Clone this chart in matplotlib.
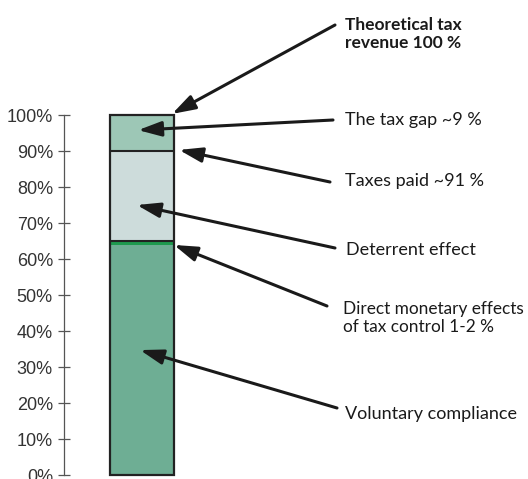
import matplotlib
matplotlib.use("Agg")
import matplotlib.pyplot as plt
import numpy as np

# ---- data ----
segments = ["Voluntary compliance", "Direct monetary effects", "Deterrent effect", "The tax gap"]
segment_values = [64, 1, 25, 10]
segment_colors = ["#6eae94", "#1e9a4e", "#cddcdb", "#9dc7b6"]
tick_values = [0, 10, 20, 30, 40, 50, 60, 70, 80, 90, 100]
tick_labels = ["0%", "10%", "20%", "30%", "40%", "50%", "60%", "70%", "80%", "90%", "100%"]

# annotation texts with arrow target (x as fraction of bar width from left, y in %)
ann_texts = ["Theoretical tax\nrevenue 100 %", "The tax gap ~9 %", "Taxes paid ~91 %",
             "Deterrent effect", "Direct monetary effects\nof tax control 1-2 %",
             "Voluntary compliance"]
ann_target_x = [0.97, 0.44, 1.08, 0.42, 1.0, 0.47]
ann_target_y = [100.3, 95.8, 90.3, 75.0, 63.9, 34.7]
# text positions (figure pixels from top-left) and arrow tails
ann_text_px = [(345, 34), (345, 120), (345, 181), (346, 250), (343, 318), (345, 414)]
ann_tail_px = [(335, 25), (333, 120), (330, 182), (335, 248), (327, 306), (337, 408)]
ann_bold = [True, False, False, False, False, False]
ann_size = [12.5, 13, 13, 13, 12.4, 13]

W, H = 528, 479
fig = plt.figure(figsize=(W / 100, H / 100), dpi=100)
ax_left_px, ax_bottom_px, ax_top_px = 64, 475, 115
ax = fig.add_axes([ax_left_px / W, (H - ax_bottom_px) / H,
                   (W - ax_left_px) / W, (ax_bottom_px - ax_top_px) / H])
ax.set_xlim(0, 1)
ax.set_ylim(0, 100)

bar_x = (142 - ax_left_px) / (W - ax_left_px)
bar_w = 64 / (W - ax_left_px)

bottoms = np.concatenate([[0], np.cumsum(segment_values)[:-1]])
for v, b, c in zip(segment_values, bottoms, segment_colors):
    ax.bar(bar_x, v, bottom=b, width=bar_w, color=c, edgecolor="none", linewidth=0, clip_on=False, zorder=2)

# separator lines at the deterrent top and its bottom
tops = np.cumsum(segment_values)
for y in [tops[2], tops[1]]:
    ax.plot([bar_x - bar_w / 2, bar_x + bar_w / 2], [y, y], color="#222222", lw=1.5,
            solid_capstyle="butt", clip_on=False, zorder=3)
# outline
ax.bar(bar_x, tops[-1], width=bar_w, color="none", edgecolor="#222222", linewidth=1.6, clip_on=False, zorder=4)

for s in ["top", "right", "bottom"]:
    ax.spines[s].set_visible(False)
ax.spines["left"].set_color("#555555")
ax.spines["left"].set_linewidth(0.9)
ax.set_xticks([])
ax.set_yticks(tick_values)
ax.set_yticklabels(tick_labels, fontfamily=["Liberation Sans Narrow", "Liberation Sans"], fontsize=13, color="#333333")
ax.tick_params(axis="y", direction="inout", length=8, width=0.9, color="#555555", pad=4)

for txt, tx, ty, (px, py), (qx, qy), bold, fs in zip(ann_texts, ann_target_x, ann_target_y,
                                                      ann_text_px, ann_tail_px, ann_bold, ann_size):
    xd = bar_x - bar_w / 2 + tx * bar_w
    ax.annotate("", xy=(xd, ty), xycoords="data",
                xytext=(qx / W, 1 - qy / H), textcoords="figure fraction",
                arrowprops=dict(arrowstyle="-|>,head_length=1.4,head_width=0.45", mutation_scale=10,
                                color="#1a1a1a", lw=2.2, shrinkA=0, shrinkB=0),
                annotation_clip=False, zorder=5)
    fig.text(px / W, 1 - py / H, txt, ha="left", va="center", fontsize=fs,
             fontfamily=["Lato", "DejaVu Sans"], fontweight="bold" if bold else "normal",
             color="#1a1a1a", linespacing=1.2)

fig.savefig("out.png", dpi=100)
